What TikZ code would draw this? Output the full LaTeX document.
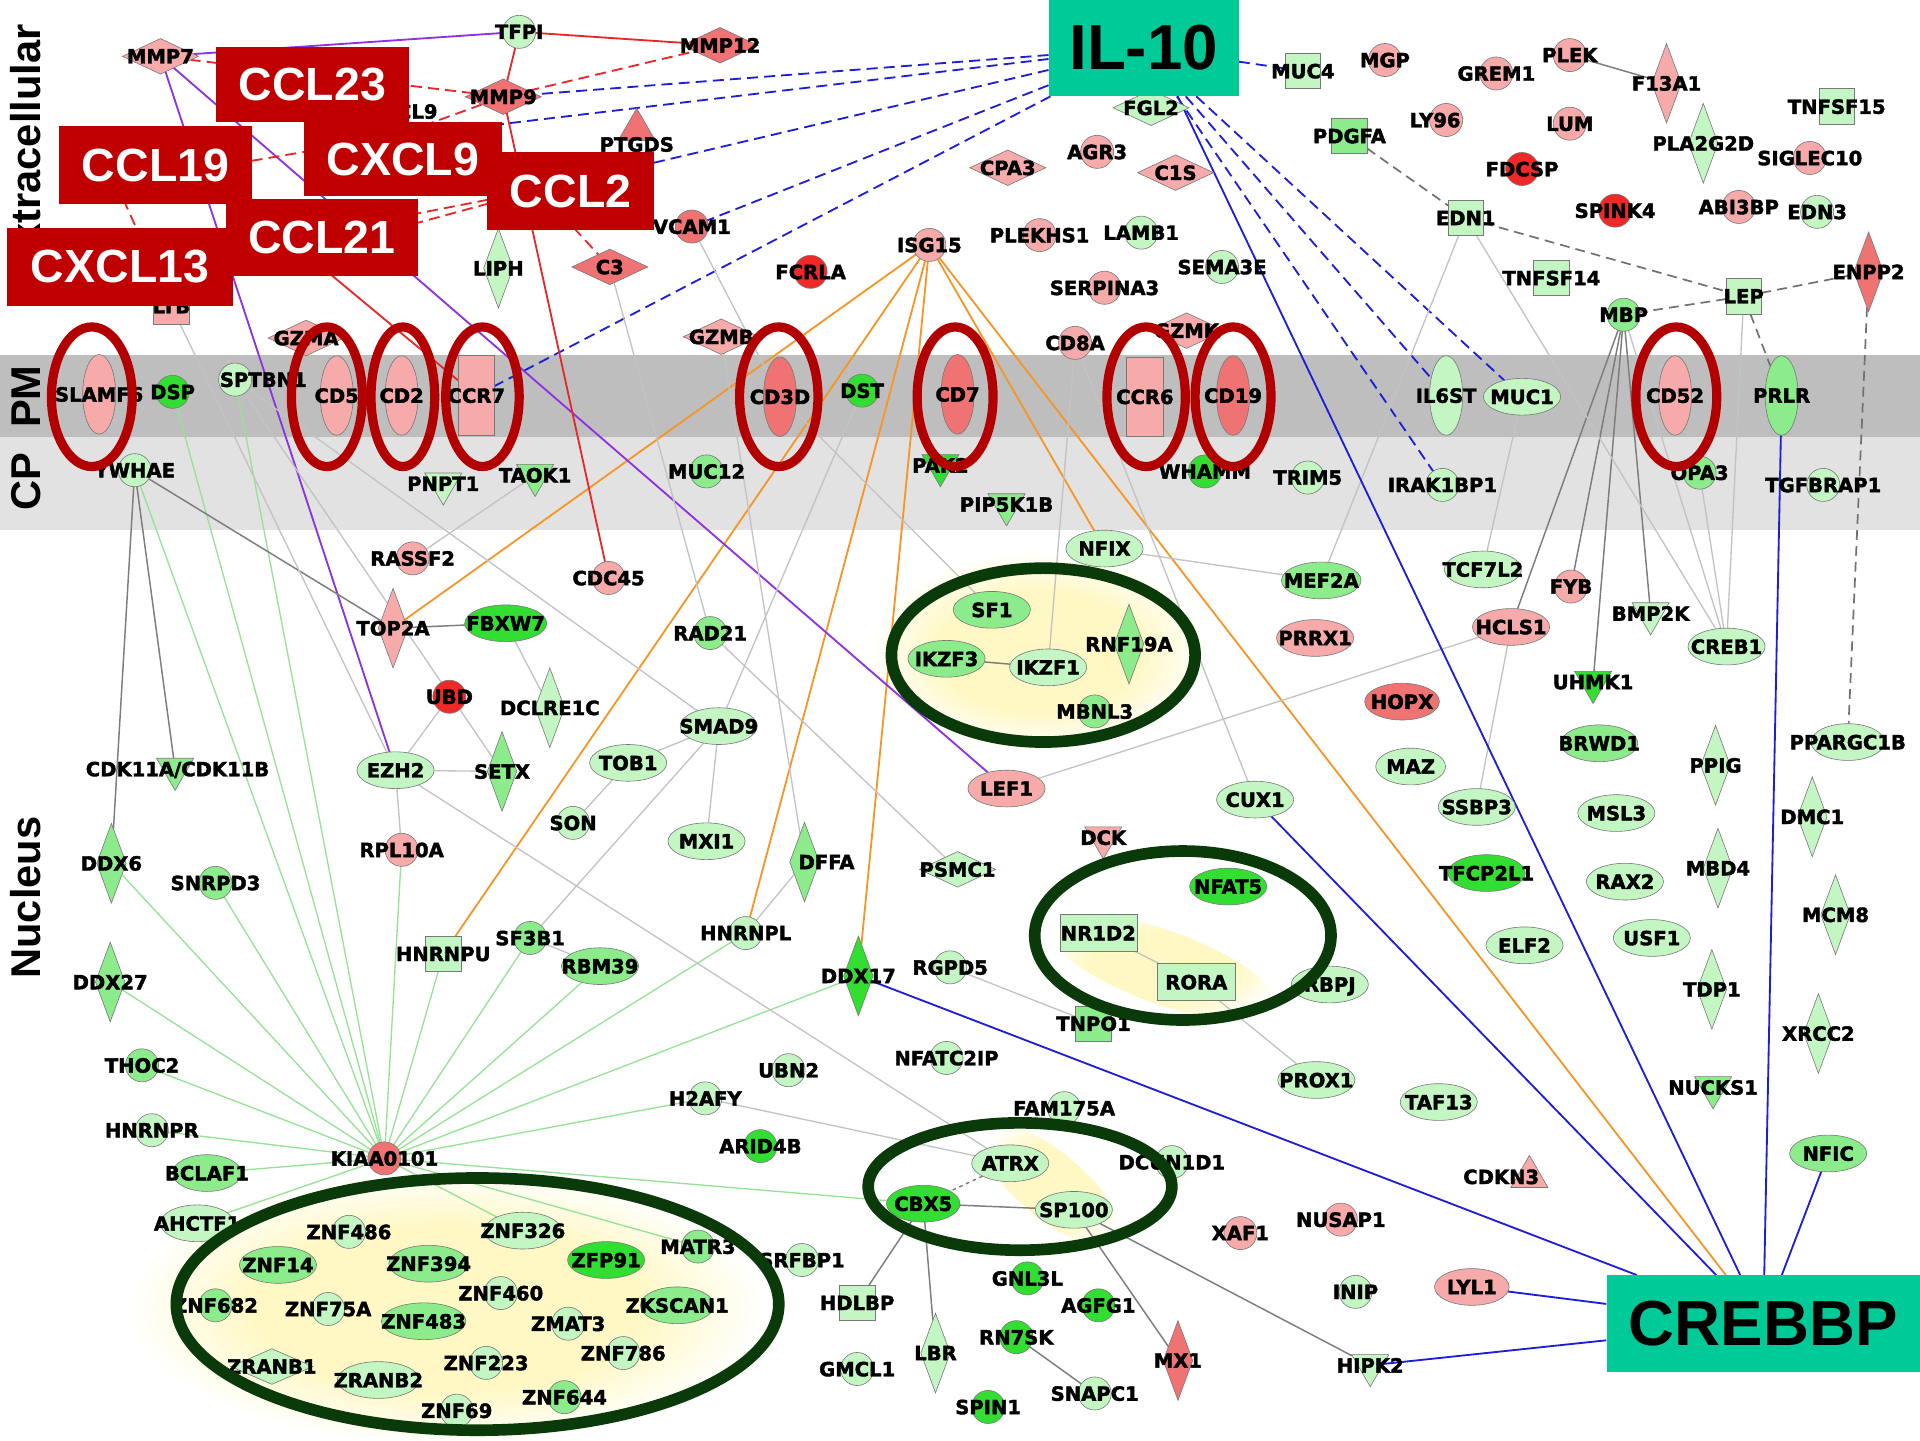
\documentclass[tikz,border=0pt]{standalone}
\usepackage{fontspec}
\setmainfont{Liberation Sans}
\newfontfamily\genefam{DejaVu Sans}[BoldFeatures={FakeBold=2}]
\usetikzlibrary{graphs,shapes.geometric}
\pgfdeclarelayer{back}
\pgfdeclarelayer{links}
\pgfsetlayers{back,links,main}

\definecolor{cpkl}{RGB}{247,170,170}
\definecolor{crdm}{RGB}{240,115,115}
\definecolor{crds}{RGB}{240,40,40}
\definecolor{cgnl}{RGB}{196,246,196}
\definecolor{cgnm}{RGB}{140,236,140}
\definecolor{cgns}{RGB}{50,222,50}
\definecolor{cborder}{RGB}{120,120,120}
\definecolor{ckl}{RGB}{150,226,150}
\definecolor{cgl}{RGB}{195,195,195}
\definecolor{cgd}{RGB}{125,125,125}
\definecolor{cor}{RGB}{245,150,40}
\definecolor{cbl}{RGB}{30,30,215}
\definecolor{cpu}{RGB}{140,50,225}
\definecolor{crl}{RGB}{230,40,40}
\definecolor{cpm}{RGB}{190,190,190}
\definecolor{ccp}{RGB}{226,226,226}
\definecolor{cyel}{RGB}{255,248,196}
\definecolor{cbox}{RGB}{192,0,0}
\definecolor{cteal}{RGB}{0,202,152}
\definecolor{cring}{RGB}{178,0,0}
\definecolor{cgring}{RGB}{10,58,10}

\pgfdeclareradialshading{glowshade}{\pgfpoint{0bp}{0bp}}{color(0bp)=(cyel); color(15bp)=(cyel); color(25bp)=(white); color(50bp)=(white)}

\newcommand\genelabel{\genefam\bfseries\fontsize{16pt}{16pt}\selectfont}

\tikzset{
  gene/.style={draw=cborder, line width=0.5pt, inner sep=0pt, outer sep=0pt, font=\genelabel,
    text depth=0pt, execute at begin node={\hbox to 0pt\bgroup\hss}, execute at end node={\hss\egroup}},
  tx/.style={execute at begin node={\kern#1pt\kern#1pt}},
  gtxt/.style={font=\genelabel, inner sep=0pt},
  gcirc/.style={gene, circle, minimum size=27pt},
  gell/.style={gene, ellipse, minimum width=63pt, minimum height=30pt},
  gvell/.style={gene, ellipse, minimum width=27pt, minimum height=65pt},
  ghdia/.style={gene, diamond, minimum width=62pt, minimum height=29pt},
  gvdia/.style={gene, diamond, minimum width=24pt, minimum height=65pt},
  gsq/.style={gene, rectangle, minimum size=29pt},
  gvrect/.style={gene, rectangle, minimum width=30pt, minimum height=65pt},
  ghrect/.style={gene, rectangle, minimum width=63pt, minimum height=30pt},
  gtdown/.style={gene, regular polygon, regular polygon sides=3, shape border rotate=180, minimum size=35pt},
  gtup/.style={gene, regular polygon, regular polygon sides=3, minimum size=35pt},
  pkl/.style={fill=cpkl}, rdm/.style={fill=crdm}, rds/.style={fill=crds},
  gnl/.style={fill=cgnl}, gnm/.style={fill=cgnm}, gns/.style={fill=cgns},
  kline/.style={draw=ckl, line width=1.1pt},
  lline/.style={draw=cgl, line width=1.1pt},
  dline/.style={draw=cgd, line width=1.2pt},
  gdash/.style={draw=cgd!90!black, line width=1.4pt, dash pattern=on 8pt off 5pt},
  oline/.style={draw=cor, line width=1.5pt},
  bline/.style={draw=cbl, line width=1.5pt},
  bdash/.style={draw=cbl, line width=1.5pt, dash pattern=on 9pt off 5pt},
  pline/.style={draw=cpu, line width=1.5pt},
  rline/.style={draw=crl, line width=1.5pt},
  rdash/.style={draw=crl, line width=1.5pt, dash pattern=on 9pt off 5pt},
  glow/.style={shading=glowshade},
  redbox/.style={fill=cbox, text=white, inner sep=0pt, font=\bfseries\fontsize{38pt}{38pt}\selectfont},
  tealbox/.style={fill=cteal, text=black, inner sep=0pt, font=\bfseries\fontsize{52pt}{52pt}\selectfont},
  zone/.style={rotate=90, inner sep=0pt, font=\bfseries\fontsize{34pt}{34pt}\selectfont},
  redring/.style={draw=cring, line width=7.5pt},
  greenring/.style={draw=cgring, line width=9.5pt}
}

\begin{document}
\begin{tikzpicture}[x=1pt,y=-1pt]
\useasboundingbox (0,0) rectangle (1568,1176);

\begin{pgfonlayer}{back}
\fill[cpm] (0,290) rectangle (1568,357);
\fill[ccp] (0,357) rectangle (1568,433);
\shade[glow] (848,532) ellipse [x radius=138pt, y radius=82pt];
\shade[glow] (365,1068) ellipse [x radius=262pt, y radius=112pt];
\shade[glow, rotate around={-20:(950,790)}] (950,790) ellipse [x radius=100pt, y radius=30pt];
\shade[glow, rotate around={-40:(858,968)}] (858,968) ellipse [x radius=72pt, y radius=27pt];
\end{pgfonlayer}

\node[zone] (extra)   at (21,122) {Extracellular};
\node[zone] (pm)      at (21,324) {PM};
\node[zone] (cp)      at (21,393) {CP};
\node[zone] (nucleus) at (21,733) {Nucleus};

\coordinate (ccl19g)  at ( 95,150);
\coordinate (ccl21g)  at (235,195);
\coordinate (cxcl13g) at (110,245);
\coordinate (cxcl9g)  at (320,112);
\coordinate (ccl2g)   at (440,155);

\node[ghdia,pkl]        (MMP7)     at ( 131,  46) {MMP7};
\node[gcirc,gnl]        (TFPI)     at ( 424,  26) {TFPI};
\node[ghdia,rdm]        (MMP12)    at ( 588,  37) {MMP12};
\node[ghdia,rdm]        (MMP9)     at ( 411,  79) {MMP9};
\node[gcirc,pkl,tx=29]  (CXCL9)    at ( 300,  91) {CXCL9};
\node[gtup,rdm]         (PTGDS)    at ( 520, 106) {};
\node[gtxt]             (PTGDSt)   at ( 520, 118) {PTGDS};
\node[gcirc,rdm]        (VCAM1)    at ( 565, 185) {VCAM1};
\node[gvdia,gnl]        (LIPH)     at ( 407, 219) {LIPH};
\node[ghdia,rdm]        (C3)       at ( 498, 218) {C3};
\node[gcirc,rds]        (FCRLA)    at ( 662, 222) {FCRLA};
\node[gcirc,pkl]        (ISG15)    at ( 759, 200) {ISG15};
\node[ghdia,pkl]        (GZMB)     at ( 589, 275) {GZMB};
\node[gsq,pkl]          (LTB)      at ( 140, 250) {LTB};
\node[ghdia,pkl]        (GZMA)     at ( 250, 276) {GZMA};
\node[gsq,gnl]          (MUC4)     at (1064,  58) {MUC4};
\node[gcirc,pkl]        (MGP)      at (1131,  49) {MGP};
\node[ghdia,gnl]        (FGL2)     at ( 940,  88) {FGL2};
\node[gsq,gnm]          (PDGFA)    at (1102, 111) {PDGFA};
\node[ghdia,pkl]        (CPA3)     at ( 823, 137) {CPA3};
\node[gcirc,pkl]        (AGR3)     at ( 896, 124) {AGR3};
\node[ghdia,pkl]        (C1S)      at ( 960, 141) {C1S};
\node[gcirc,pkl]        (PLEKHS1)  at ( 849, 192) {PLEKHS1};
\node[gcirc,gnl]        (LAMB1)    at ( 932, 190) {LAMB1};
\node[gcirc,gnl]        (SEMA3E)   at ( 998, 218) {SEMA3E};
\node[gcirc,pkl]        (SERPINA3) at ( 902, 235) {SERPINA3};
\node[gcirc,pkl]        (CD8A)     at ( 878, 280) {CD8A};
\node[ghdia,pkl]        (GZMK)     at ( 969, 270) {GZMK};
\node[gcirc,pkl]        (GREM1)    at (1222,  60) {GREM1};
\node[gcirc,pkl]        (PLEK)     at (1282,  45) {PLEK};
\node[gvdia,pkl]        (F13A1)    at (1361,  68) {F13A1};
\node[gcirc,pkl,tx=-9]  (LY96)     at (1181,  98) {LY96};
\node[gcirc,pkl]        (LUM)      at (1282, 101) {LUM};
\node[gvdia,gnl]        (PLA2G2D)  at (1391, 117) {PLA2G2D};
\node[gsq,gnl]          (TNFSF15)  at (1500,  87) {TNFSF15};
\node[gcirc,rds]        (FDCSP)    at (1243, 138) {FDCSP};
\node[gcirc,pkl]        (SIGLEC10) at (1478, 129) {SIGLEC10};
\node[gsq,gnl]          (EDN1)     at (1197, 178) {EDN1};
\node[gcirc,rds]        (SPINK4)   at (1319, 172) {SPINK4};
\node[gcirc,pkl]        (ABI3BP)   at (1420, 169) {ABI3BP};
\node[gcirc,gnl]        (EDN3)     at (1484, 173) {EDN3};
\node[gvdia,rdm]        (ENPP2)    at (1526, 222) {ENPP2};
\node[gsq,gnl]          (TNFSF14)  at (1267, 227) {TNFSF14};
\node[gcirc,gnm]        (MBP)      at (1326, 257) {MBP};
\node[gsq,gnl]          (LEP)      at (1424, 242) {LEP};

\node[gvell,pkl]        (SLAMF6)   at (  81, 322) {SLAMF6};
\node[gcirc,gns]        (DSP)      at ( 141, 320) {DSP};
\node[gcirc,gnl,tx=23]  (SPTBN1)   at ( 192, 310) {SPTBN1};
\node[gvell,pkl]        (CD5)      at ( 275, 323) {CD5};
\node[gvell,pkl]        (CD2)      at ( 328, 323) {CD2};
\node[gvrect,pkl]       (CCR7)     at ( 389, 323) {CCR7};
\node[gvell,rdm]        (CD3D)     at ( 637, 324) {CD3D};
\node[gcirc,gns]        (DST)      at ( 704, 319) {DST};
\node[gvell,rdm]        (CD7)      at ( 782, 322) {CD7};
\node[gvrect,pkl]       (CCR6)     at ( 935, 324) {CCR6};
\node[gvell,rdm]        (CD19)     at (1007, 323) {CD19};
\node[gvell,gnl]        (IL6ST)    at (1181, 323) {IL6ST};
\node[gell,gnl]         (MUC1)     at (1243, 324) {MUC1};
\node[gvell,pkl]        (CD52)     at (1368, 323) {CD52};
\node[gvell,gnm]        (PRLR)     at (1455, 323) {PRLR};

\node[gcirc,gnl]        (YWHAE)    at ( 110, 384) {YWHAE};
\node[gtdown,gnl]       (PNPT1)    at ( 362, 395) {PNPT1};
\node[gtdown,gnm]       (TAOK1)    at ( 437, 388) {TAOK1};
\node[gcirc,gnm]        (MUC12)    at ( 577, 385) {MUC12};
\node[gtdown,gns]       (PAK2)     at ( 768, 380) {PAK2};
\node[gtdown,gnm]       (PIP5K1B)  at ( 822, 412) {PIP5K1B};
\node[gcirc,gns]        (WHAMM)    at ( 984, 385) {WHAMM};
\node[gcirc,gnl]        (TRIM5)    at (1068, 390) {TRIM5};
\node[gcirc,gnl]        (IRAK1BP1) at (1178, 396) {IRAK1BP1};
\node[gcirc,gnm]        (OPA3)     at (1388, 386) {OPA3};
\node[gcirc,gnl]        (TGFBRAP1) at (1489, 396) {TGFBRAP1};

\node[gcirc,pkl]        (RASSF2)   at ( 337, 456) {RASSF2};
\node[gcirc,pkl]        (CDC45)    at ( 497, 472) {CDC45};
\node[gvdia,pkl]        (TOP2A)    at ( 321, 513) {TOP2A};
\node[gell,gns,minimum width=67pt] (FBXW7) at ( 413, 509) {FBXW7};
\node[gcirc,gnm]        (RAD21)    at ( 580, 517) {RAD21};
\node[gcirc,rds]        (UBD)      at ( 367, 569) {UBD};
\node[gvdia,gnl]        (DCLRE1C)  at ( 449, 578) {DCLRE1C};
\node[gell,gnl]         (SMAD9)    at ( 587, 593) {SMAD9};
\node[gell,gnl]         (EZH2)     at ( 323, 629) {EZH2};
\node[gvdia,gnm]        (SETX)     at ( 410, 630) {SETX};
\node[gell,gnl]         (TOB1)     at ( 513, 623) {TOB1};
\node[gtdown,gnm,tx=2]  (CDK11)    at ( 143, 628) {CDK11A/CDK11B};
\node[gcirc,gnl]        (SON)      at ( 468, 672) {SON};
\node[gell,gnl]         (MXI1)     at ( 577, 687) {MXI1};
\node[gvdia,gnm]        (DDX6)     at (  91, 705) {DDX6};
\node[gcirc,gnm]        (SNRPD3)   at ( 176, 721) {SNRPD3};
\node[gcirc,pkl]        (RPL10A)   at ( 328, 694) {RPL10A};
\node[gvdia,gnm,tx=18]  (DFFA)     at ( 657, 704) {DFFA};
\node[ghdia,gnl]        (PSMC1)    at ( 782, 710) {PSMC1};
\node[gsq,gnl]          (HNRNPU)   at ( 362, 779) {HNRNPU};
\node[gcirc,gnm]        (SF3B1)    at ( 433, 766) {SF3B1};
\node[gell,gnm]         (RBM39)    at ( 490, 789) {RBM39};
\node[gcirc,gnl]        (HNRNPL)   at ( 609, 762) {HNRNPL};
\node[gvdia,gns]        (DDX17)    at ( 701, 797) {DDX17};
\node[gcirc,gnl]        (RGPD5)    at ( 776, 790) {RGPD5};
\node[gvdia,gnm]        (DDX27)    at (  90, 802) {DDX27};
\node[gcirc,gnm]        (THOC2)    at ( 116, 870) {THOC2};
\node[gcirc,gnl]        (HNRNPR)   at ( 124, 923) {HNRNPR};
\node[gell,gnm,minimum width=56pt] (BCLAF1) at ( 169, 958) {BCLAF1};
\node[gcirc,rdm]        (KIAA0101) at ( 314, 946) {KIAA0101};
\node[gell,gnl,minimum width=60pt] (AHCTF1) at ( 161, 999) {AHCTF1};
\node[gcirc,gnl]        (UBN2)     at ( 644, 874) {UBN2};
\node[gcirc,gnl]        (NFATC2IP) at ( 773, 864) {NFATC2IP};
\node[gcirc,gnl]        (H2AFY)    at ( 576, 897) {H2AFY};
\node[gcirc,gns]        (ARID4B)   at ( 621, 936) {ARID4B};
\node[gsq,gnm]          (TNPO1)    at ( 893, 836) {TNPO1};
\node[gcirc,gnl]        (FAM175A)  at ( 869, 905) {FAM175A};
\node[gell,gnl]         (ATRX)     at ( 825, 950) {ATRX};
\node[gcirc,gnl]        (DCUN1D1)  at ( 957, 949) {DCUN1D1};
\node[gell,gns,minimum width=60pt] (CBX5) at ( 754, 983) {CBX5};
\node[gell,gnl]         (SP100)    at ( 877, 988) {SP100};
\node[gcirc,pkl]        (XAF1)     at (1013,1007) {XAF1};
\node[gcirc,pkl]        (NUSAP1)   at (1095, 996) {NUSAP1};
\node[gcirc,gns]        (GNL3L)    at ( 839,1044) {GNL3L};
\node[gcirc,gns]        (AGFG1)    at ( 897,1066) {AGFG1};
\node[gcirc,gnl]        (INIP)     at (1107,1055) {INIP};
\node[gell,pkl,minimum width=61pt] (LYL1) at (1202,1051) {LYL1};
\node[gcirc,gns]        (RN7SK)    at ( 830,1092) {RN7SK};
\node[gvdia,rdm]        (MX1)      at ( 962,1111) {MX1};
\node[gcirc,gnl]        (SNAPC1)   at ( 894,1138) {SNAPC1};
\node[gcirc,gns]        (SPIN1)    at ( 807,1149) {SPIN1};
\node[gtdown,gnl]       (HIPK2)    at (1119,1115) {HIPK2};
\node[gsq,gnl]          (HDLBP)    at ( 700,1064) {HDLBP};
\node[gcirc,gnl]        (GMCL1)    at ( 700,1118) {GMCL1};
\node[gvdia,gnl]        (LBR)      at ( 764,1105) {LBR};
\node[gcirc,gnl]        (SRFBP1)   at ( 655,1029) {SRFBP1};

\node[gcirc,gnl]        (ZNF486)   at ( 285,1006) {ZNF486};
\node[gell,gnl]         (ZNF326)   at ( 427,1005) {ZNF326};
\node[gell,gnm]         (ZNF14)    at ( 227,1033) {ZNF14};
\node[gell,gnm,minimum width=65pt] (ZNF394) at ( 350,1032) {ZNF394};
\node[gell,gns]         (ZFP91)    at ( 495,1029) {ZFP91};
\node[gcirc,gnm]        (MATR3)    at ( 570,1018) {MATR3};
\node[gcirc,gnm]        (ZNF682)   at ( 176,1066) {ZNF682};
\node[gcirc,gnl]        (ZNF75A)   at ( 268,1069) {ZNF75A};
\node[gcirc,gnl]        (ZNF460)   at ( 409,1056) {ZNF460};
\node[gell,gnm,minimum width=69pt] (ZNF483) at ( 346,1079) {ZNF483};
\node[gcirc,gnl]        (ZMAT3)    at ( 464,1081) {ZMAT3};
\node[gell,gnm,minimum width=60pt] (ZKSCAN1) at ( 553,1066) {ZKSCAN1};
\node[gcirc,gnl]        (ZNF786)   at ( 509,1105) {ZNF786};
\node[ghdia,gnl,minimum width=67pt] (ZRANB1) at ( 222,1116) {ZRANB1};
\node[gell,gnl,minimum width=67pt] (ZRANB2) at ( 309,1127) {ZRANB2};
\node[gcirc,gnl]        (ZNF223)   at ( 397,1113) {ZNF223};
\node[gcirc,gnm]        (ZNF644)   at ( 461,1141) {ZNF644};
\node[gcirc,gnl]        (ZNF69)    at ( 373,1152) {ZNF69};

\node[gell,gnl]         (NFIX)     at ( 902, 448) {NFIX};
\node[gell,gnm]         (SF1)      at ( 810, 498) {SF1};
\node[gell,gnm]         (IKZF3)    at ( 773, 538) {IKZF3};
\node[gell,gnl]         (IKZF1)    at ( 856, 545) {IKZF1};
\node[gvdia,gnm]        (RNF19A)   at ( 922, 526) {RNF19A};
\node[gcirc,gnm]        (MBNL3)    at ( 894, 581) {MBNL3};
\node[gell,gnm,minimum width=65pt] (MEF2A) at (1079, 474) {MEF2A};
\node[gell,pkl]         (PRRX1)    at (1074, 521) {PRRX1};
\node[gell,rdm,minimum width=61pt] (HOPX) at (1145, 573) {HOPX};
\node[gell,gnl,minimum width=57pt] (MAZ)  at (1152, 626) {MAZ};
\node[gell,pkl]         (LEF1)     at ( 822, 644) {LEF1};
\node[gell,gnl]         (CUX1)     at (1025, 653) {CUX1};
\node[gtdown,pkl]       (DCK)      at ( 901, 684) {DCK};
\node[gell,gns]         (NFAT5)    at (1003, 724) {NFAT5};
\node[ghrect,gnl]       (NR1D2)    at ( 897, 762) {NR1D2};
\node[ghrect,gnl]       (RORA)     at ( 977, 802) {RORA};
\node[gell,gnl]         (RBPJ)     at (1086, 804) {RBPJ};
\node[gell,gnl]         (PROX1)    at (1075, 882) {PROX1};
\node[gell,gnl]         (TAF13)    at (1175, 900) {TAF13};
\node[gtup,pkl,tx=-23]  (CDKN3)    at (1249, 961) {CDKN3};
\node[gell,gnl]         (TCF7L2)   at (1211, 465) {TCF7L2};
\node[gcirc,pkl]        (FYB)      at (1283, 479) {FYB};
\node[gell,pkl]         (HCLS1)    at (1234, 512) {HCLS1};
\node[gtdown,gnl]       (BMP2K)    at (1348, 501) {BMP2K};
\node[gell,gnl]         (CREB1)    at (1410, 528) {CREB1};
\node[gtdown,gns]       (UHMK1)    at (1301, 557) {UHMK1};
\node[gell,gnm]         (BRWD1)    at (1306, 607) {BRWD1};
\node[gvdia,gnl]        (PPIG)     at (1401, 625) {PPIG};
\node[gell,gnl,minimum width=60pt] (PPARGC1B) at (1509, 606) {PPARGC1B};
\node[gell,gnl]         (SSBP3)    at (1206, 659) {SSBP3};
\node[gell,gnl]         (MSL3)     at (1320, 664) {MSL3};
\node[gvdia,gnl]        (DMC1)     at (1480, 667) {DMC1};
\node[gell,gns]         (TFCP2L1)  at (1214, 713) {TFCP2L1};
\node[gell,gnl]         (RAX2)     at (1327, 720) {RAX2};
\node[gvdia,gnl]        (MBD4)     at (1403, 709) {MBD4};
\node[gvdia,gnl]        (MCM8)     at (1499, 747) {MCM8};
\node[gell,gnl]         (ELF2)     at (1245, 772) {ELF2};
\node[gell,gnl]         (USF1)     at (1349, 766) {USF1};
\node[gvdia,gnl]        (TDP1)     at (1398, 808) {TDP1};
\node[gvdia,gnl]        (XRCC2)    at (1485, 844) {XRCC2};
\node[gtdown,gnm]       (NUCKS1)   at (1399, 888) {NUCKS1};
\node[gell,gnm]         (NFIC)     at (1493, 942) {NFIC};

\draw[redring] (  75,324) ellipse [x radius=33pt, y radius=57pt];
\draw[redring] ( 267,324) ellipse [x radius=29pt, y radius=57pt];
\draw[redring] ( 329,324) ellipse [x radius=26pt, y radius=57pt];
\draw[redring] ( 394,324) ellipse [x radius=30pt, y radius=57pt];
\draw[redring] ( 636,324) ellipse [x radius=32pt, y radius=57pt];
\draw[redring] ( 780,324) ellipse [x radius=31pt, y radius=57pt];
\draw[redring] ( 936,324) ellipse [x radius=32pt, y radius=57pt];
\draw[redring] (1007,324) ellipse [x radius=31pt, y radius=57pt];
\draw[redring] (1369,324) ellipse [x radius=33pt, y radius=57pt];

\draw[greenring] ( 852, 535) ellipse [x radius=124pt, y radius=71pt];
\draw[greenring] ( 966, 764) ellipse [x radius=121pt, y radius=69pt];
\draw[greenring] ( 833, 969) ellipse [x radius=124pt, y radius=52pt];
\draw[greenring] ( 390,1065) ellipse [x radius=246pt, y radius=103pt];

\node[redbox,minimum width=158pt,minimum height=61pt] (CCL23)  at (255,  69) {CCL23};
\node[redbox,minimum width=157pt,minimum height=64pt] (CCL19)  at (127, 135) {CCL19};
\node[redbox,minimum width=162pt,minimum height=60pt] (CXCL9b) at (329, 130) {CXCL9};
\node[redbox,minimum width=136pt,minimum height=63pt] (CCL2)   at (466, 156) {CCL2};
\node[redbox,minimum width=157pt,minimum height=63pt] (CCL21)  at (263, 194) {CCL21};
\node[redbox,minimum width=184pt,minimum height=64pt] (CXCL13) at ( 98, 218) {CXCL13};

\node[tealbox,minimum width=155pt,minimum height=79pt] (il10)   at ( 934, 39) {IL-10};
\node[tealbox,minimum width=256pt,minimum height=79pt] (crebbp) at (1440,1081) {CREBBP};

\begin{pgfonlayer}{links}
\graph [use existing nodes] {
  KIAA0101 --[kline] {YWHAE, DSP, SPTBN1, DDX6, DDX27, THOC2, HNRNPR, BCLAF1, AHCTF1, SNRPD3, RPL10A,
                      HNRNPU, SF3B1, RBM39, HNRNPL, DDX17, H2AFY, CBX5, MATR3, ZNF326};
  il10 --[bdash] {MMP9, cxcl9g, ccl2g, VCAM1, CCR7, MUC4, IL6ST, MUC1, IRAK1BP1};
  crebbp --[bline] {DDX17, CUX1, PRLR, NFIC, LYL1, HIPK2};
  ISG15 --[oline] {TOP2A, HNRNPU, HNRNPL, DDX17, NFIX, crebbp};
  MMP7 --[pline] {TFPI, EZH2, LEF1};
  TFPI --[rline] {MMP12, MMP9};
  MMP9 --[rline] CDC45;
  ccl21g --[rline] CCR7;
  MMP9 --[rdash] {MMP12, MMP7, cxcl9g};
  ccl19g --[rdash] {cxcl9g, LTB};
  ccl2g --[rdash] {ccl21g, cxcl13g, C3};
  PDGFA --[gdash] EDN1 --[gdash] LEP;
  LEP --[gdash] {MBP, ENPP2, PRLR};
  ENPP2 --[gdash] PPARGC1B;
  YWHAE --[dline] {TOP2A, DDX6, CDK11};
  MBP --[dline] {HCLS1, FYB, UHMK1, BMP2K};
  CBX5 --[dline] {SP100, HDLBP, LBR};
  SP100 --[dline] {MX1, HIPK2};
  RN7SK --[dline] SNAPC1;
  PLEK --[dline] F13A1;
  TOP2A --[dline] FBXW7;
  IKZF3 --[dline] IKZF1;
  ATRX --[dline, dashed] CBX5;
  LTB --[lline] EZH2;
  SPTBN1 --[lline] {SMAD9, SETX};
  RASSF2 --[lline] TAOK1;
  FBXW7 --[lline] DCLRE1C;
  EZH2 --[lline] {UBD, SETX, RPL10A, ATRX};
  TOB1 --[lline] {SMAD9, SON};
  SMAD9 --[lline] {MXI1, SF3B1, DST};
  SF3B1 --[lline] RBM39;
  C3 --[lline] RAD21 --[lline] PSMC1;
  GZMB --[lline] DFFA --[lline] HNRNPL;
  CD3D --[lline] {SF1, VCAM1};
  CD8A --[lline] {IKZF1, CUX1};
  NFIX --[lline] MEF2A;
  EDN1 --[lline] {MEF2A, CREB1};
  CREB1 --[lline] {LEP, MBP, OPA3};
  MUC1 --[lline] TCF7L2;
  HCLS1 --[lline] {SSBP3, LEF1};
  NR1D2 --[lline] RORA --[lline] PROX1;
  RGPD5 --[lline] TNPO1;
  H2AFY --[lline] ATRX;
};
\draw[bline] (il10.-55) -- (crebbp);
\end{pgfonlayer}
\end{tikzpicture}
\end{document}
